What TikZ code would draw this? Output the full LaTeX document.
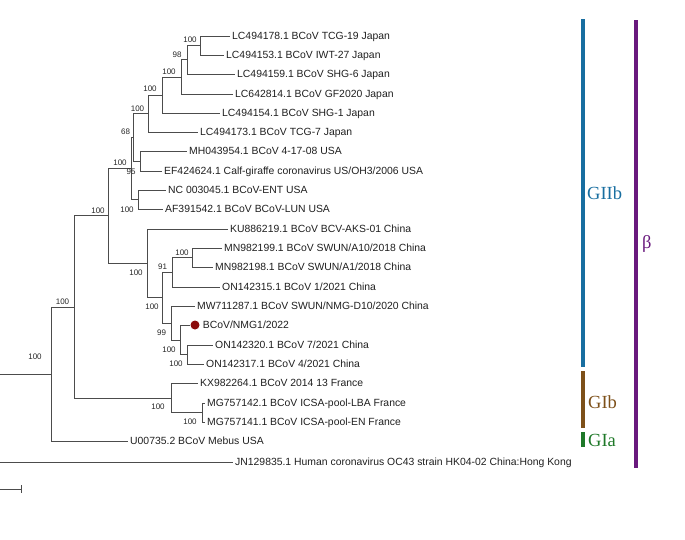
\documentclass[tikz,border=0pt]{standalone}
\usepackage{fontspec}
\setmainfont{Liberation Serif}
\newfontfamily\arialfont{Liberation Sans}
\usetikzlibrary{arrows.meta}

\definecolor{giibblue}{RGB}{24,110,160}
\definecolor{gibbrown}{RGB}{125,80,25}
\definecolor{giagreen}{RGB}{30,120,40}
\definecolor{betapurple}{RGB}{105,25,125}
\definecolor{nmgred}{RGB}{140,12,12}

\begin{document}
\begin{tikzpicture}[x=1pt,y=-1pt,
    branch/.style={draw=black!70, line width=0.8pt},
    leaf/.style={anchor=west, inner sep=2pt, text=black!88, text height=7.45pt, text depth=0pt,
        font=\arialfont\fontsize{10.4}{12}\selectfont},
    boot/.style={inner sep=0pt, text=black!85, text height=5.7pt, text depth=0pt,
        font=\arialfont\fontsize{8}{9}\selectfont},
    cladebar/.style={line width=4pt},
    cladetext/.style={anchor=west, inner sep=0pt, text height=12.2pt, text depth=0pt,
        font=\fontsize{18.5}{20}\selectfont}]

    % Fix the size of the picture
    \useasboundingbox (0,0) rectangle (685,539);

    % Place the leaf labels (the line of each leaf ends at its west anchor)
    \node[leaf] (l1) at (230,36) {LC494178.1 BCoV TCG-19 Japan};
    \node[leaf] (l2) at (224,55) {LC494153.1 BCoV IWT-27 Japan};
    \node[leaf] (l3) at (235,74) {LC494159.1 BCoV SHG-6 Japan};
    \node[leaf] (l4) at (233,94) {LC642814.1 BCoV GF2020 Japan};
    \node[leaf] (l5) at (220,113) {LC494154.1 BCoV SHG-1 Japan};
    \node[leaf] (l6) at (198,132) {LC494173.1 BCoV TCG-7 Japan};
    \node[leaf] (l7) at (187,151) {MH043954.1 BCoV 4-17-08 USA};
    \node[leaf] (l8) at (162,171) {EF424624.1 Calf-giraffe coronavirus US/OH3/2006 USA};
    \node[leaf] (l9) at (166,190) {NC 003045.1 BCoV-ENT USA};
    \node[leaf] (l10) at (163,209) {AF391542.1 BCoV BCoV-LUN USA};
    \node[leaf] (l11) at (228,229) {KU886219.1 BCoV BCV-AKS-01 China};
    \node[leaf] (l12) at (222,248) {MN982199.1 BCoV SWUN/A10/2018 China};
    \node[leaf] (l13) at (213,267) {MN982198.1 BCoV SWUN/A1/2018 China};
    \node[leaf] (l14) at (220,287) {ON142315.1 BCoV 1/2021 China};
    \node[leaf] (l15) at (195,306) {MW711287.1 BCoV SWUN/NMG-D10/2020 China};
    % The new strain is marked with a red dot
    \node[circle, fill=nmgred, inner sep=0pt, minimum size=9pt] (dot) at (195,325) {};
    \node[leaf] (l16) at ([xshift=1pt]dot.east) {BCoV/NMG1/2022};
    \node[leaf] (l17) at (213,345) {ON142320.1 BCoV 7/2021 China};
    \node[leaf] (l18) at (204,364) {ON142317.1 BCoV 4/2021 China};
    \node[leaf] (l19) at (198,383) {KX982264.1 BCoV 2014 13 France};
    \node[leaf] (l20) at (205,403) {MG757142.1 BCoV ICSA-pool-LBA France};
    \node[leaf] (l21) at (205,422) {MG757141.1 BCoV ICSA-pool-EN France};
    \node[leaf] (l22) at (128,441) {U00735.2 BCoV Mebus USA};
    \node[leaf] (l23) at (233,462) {JN129835.1 Human coronavirus OC43 strain HK04-02 China:Hong Kong};

    % Define the inner nodes of the tree
    \coordinate (n1) at (200,45.5);
    \coordinate (n2) at (187,59.75);
    \coordinate (n3) at (181,76.9);
    \coordinate (n4) at (162,95);
    \coordinate (n5) at (148,113.5);
    \coordinate (n7) at (140,161);
    \coordinate (n6) at (133,137);
    \coordinate (n9) at (138,199.5);
    \coordinate (n8) at (131,168);
    \coordinate (n14) at (192,257.5);
    \coordinate (n13) at (172,272);
    \coordinate (n17) at (187,354.5);
    \coordinate (n16) at (180,340);
    \coordinate (n15) at (171,323);
    \coordinate (n12) at (162,297.5);
    \coordinate (n11) at (147,263);
    \coordinate (n10) at (108,215.5);
    \coordinate (n20) at (202,412.5);
    \coordinate (n19) at (171,398);
    \coordinate (n18) at (74,307);
    \coordinate (n21) at (51,374);
    % The root lies just outside the left edge
    \coordinate (root) at (-1.5,418);

    % Draw the branches, each node to its two children
    \draw[branch] (n1) |- (l1.west); \draw[branch] (n1) |- (l2.west);
    \draw[branch] (n2) |- (n1); \draw[branch] (n2) |- (l3.west);
    \draw[branch] (n3) |- (n2); \draw[branch] (n3) |- (l4.west);
    \draw[branch] (n4) |- (n3); \draw[branch] (n4) |- (l5.west);
    \draw[branch] (n5) |- (n4); \draw[branch] (n5) |- (l6.west);
    \draw[branch] (n7) |- (l7.west); \draw[branch] (n7) |- (l8.west);
    \draw[branch] (n6) |- (n5); \draw[branch] (n6) |- (n7);
    \draw[branch] (n9) |- (l9.west); \draw[branch] (n9) |- (l10.west);
    \draw[branch] (n8) |- (n6); \draw[branch] (n8) |- (n9);
    \draw[branch] (n14) |- (l12.west); \draw[branch] (n14) |- (l13.west);
    \draw[branch] (n13) |- (n14); \draw[branch] (n13) |- (l14.west);
    \draw[branch] (n17) |- (l17.west); \draw[branch] (n17) |- (l18.west);
    \draw[branch] (n16) |- (dot.west); \draw[branch] (n16) |- (n17);
    \draw[branch] (n15) |- (l15.west); \draw[branch] (n15) |- (n16);
    \draw[branch] (n12) |- (n13); \draw[branch] (n12) |- (n15);
    \draw[branch] (n11) |- (l11.west); \draw[branch] (n11) |- (n12);
    \draw[branch] (n10) |- (n8); \draw[branch] (n10) |- (n11);
    \draw[branch] (n20) |- (l20.west); \draw[branch] (n20) |- (l21.west);
    \draw[branch] (n19) |- (l19.west); \draw[branch] (n19) |- (n20);
    \draw[branch] (n18) |- (n10); \draw[branch] (n18) |- (n19);
    \draw[branch] (n21) |- (n18); \draw[branch] (n21) |- (l22.west);
    \draw[branch] (root) |- (n21); \draw[branch] (root) |- (l23.west);

    % Place the bootstrap values next to their nodes
    \node[boot] (b1) at (190,40) {100};
    \node[boot] (b2) at (177,54.5) {98};
    \node[boot] (b3) at (169,72) {100};
    \node[boot] (b4) at (150,89) {100};
    \node[boot] (b5) at (137.5,109) {100};
    \node[boot] (b6) at (125.5,131.5) {68};
    \node[boot] (b7) at (131,171.5) {95};
    \node[boot] (b8) at (120,163) {100};
    \node[boot] (b9) at (127,210) {100};
    \node[boot] (b10) at (98,210.5) {100};
    \node[boot] (b11) at (136,273) {100};
    \node[boot] (b12) at (152,307) {100};
    \node[boot] (b13) at (162.5,267) {91};
    \node[boot] (b14) at (182,252.5) {100};
    \node[boot] (b15) at (161.5,333) {99};
    \node[boot] (b16) at (169,350) {100};
    \node[boot] (b17) at (176,364) {100};
    \node[boot] (b18) at (62.5,302) {100};
    \node[boot] (b19) at (158,407) {100};
    \node[boot] (b20) at (190,422) {100};
    \node[boot] (b21) at (35,357) {100};

    % Draw the scale bar
    \coordinate (sbL) at (-4,489);
    \coordinate (sbR) at (22,489);
    \draw[branch, {Bar[width=8pt]}-{Bar[width=8pt]}] (sbL) -- (sbR);

    % Draw the genotype bars on the right
    \coordinate (giibTop) at (583,19);
    \coordinate (giibBot) at (583,367);
    \coordinate (gibTop) at (583,371);
    \coordinate (gibBot) at (583,428);
    \coordinate (giaTop) at (583,432);
    \coordinate (giaBot) at (583,447);
    \coordinate (betaTop) at (636,20);
    \coordinate (betaBot) at (636,468);
    \draw[cladebar, giibblue] (giibTop) -- (giibBot);
    \draw[cladebar, gibbrown] (gibTop) -- (gibBot);
    \draw[cladebar, giagreen] (giaTop) -- (giaBot);
    \draw[cladebar, betapurple] (betaTop) -- (betaBot);

    % Label the genotypes and the genus
    \node[cladetext, text=giibblue] (giib) at (587,193) {GIIb};
    \node[cladetext, text=gibbrown] (gib) at (588,402) {GIb};
    \node[cladetext, text=giagreen] (gia) at (588,440) {GIa};
    \node[cladetext, text=betapurple] (beta) at (642,242) {β};

\end{tikzpicture}
\end{document}
